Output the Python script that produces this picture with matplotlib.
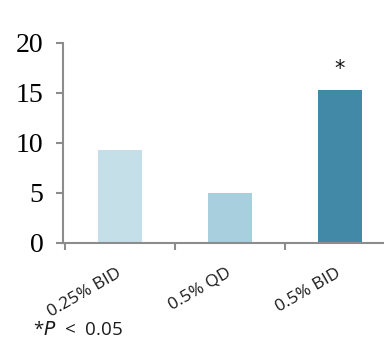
import matplotlib
matplotlib.use("Agg")
import matplotlib.pyplot as plt

categories = ["0.25% BID", "0.5% QD", "0.5% BID"]
values = [9.3, 5.0, 15.3]
colors = ["#c5dfe8", "#a8cfdd", "#4189a6"]
yticks = [0, 5, 10, 15, 20]
sig = ["", "", "*"]

fig = plt.figure(figsize=(3.84, 3.42), dpi=100)
ax = fig.add_axes([63/384, (342-243)/342, 1 - 63/384, 200/342])

x = list(range(len(categories)))
ax.bar(x, values, width=0.4, color=colors, zorder=2)
for xi, v, s in zip(x, values, sig):
    if s:
        ax.text(xi, v + 2.1, s, ha="center", va="center", fontsize=15,
                family="DejaVu Sans", color="#111111")

ax.set_xlim(-0.52, 2.4)
ax.set_ylim(0, 20)
ax.set_yticks(yticks)
ax.set_yticklabels([str(t) for t in yticks], family="Liberation Serif", fontsize=20)

ax.set_xticks([xi - 0.04 for xi in x])
ax.set_xticklabels(categories, rotation=30, ha="right", va="top",
                   rotation_mode="anchor", family="Open Sans", fontsize=12.5,
                   color="#1a1a1a")
ax.tick_params(axis="x", which="major", length=0, pad=16)
ax.set_xticks([-0.5, 0.5, 1.5], minor=True)
ax.tick_params(axis="x", which="minor", length=5, width=1.5, color="#8c8c8c")
ax.tick_params(axis="y", length=5, width=1.5, color="#8c8c8c", pad=9)

for side in ["top", "right"]:
    ax.spines[side].set_visible(False)
for side in ["left", "bottom"]:
    ax.spines[side].set_color("#8c8c8c")
    ax.spines[side].set_linewidth(1.5)

fig.text(33/384, 1 - 330/342, "*$\\it{P}$  <  0.05", fontsize=13.5,
         family="Open Sans", va="center", color="#1a1a1a")

fig.savefig("out.png", dpi=100)
